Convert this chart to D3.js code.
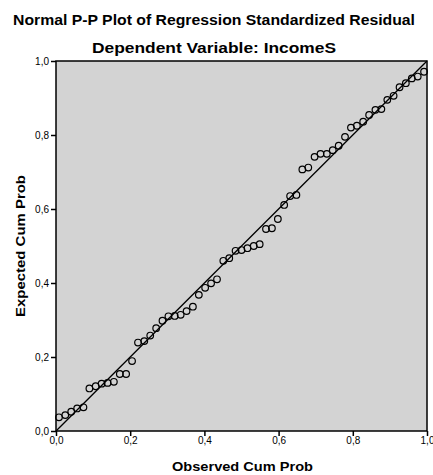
<!DOCTYPE html>
<html>
<head>
<meta charset="utf-8">
<script src="https://cdn.jsdelivr.net/npm/d3@7"></script>
<style>
  html, body { margin: 0; padding: 0; background: #ffffff; }
  svg { display: block; }
</style>
</head>
<body>
<div id="chart"></div>
<script>
// ---- Data ----
const titleText = "Normal P-P Plot of Regression Standardized Residual";
const subtitleText = "Dependent Variable: IncomeS";
const xTitle = "Observed Cum Prob";
const yTitle = "Expected Cum Prob";
const tickValues = [0, 0.2, 0.4, 0.6, 0.8, 1.0];

const observedCumProb = [
  0.008, 0.025, 0.041, 0.057, 0.074, 0.090, 0.107, 0.123, 0.139, 0.156,
  0.172, 0.189, 0.205, 0.221, 0.238, 0.254, 0.270, 0.287, 0.303, 0.320,
  0.336, 0.352, 0.369, 0.385, 0.402, 0.418, 0.434, 0.451, 0.467, 0.484,
  0.500, 0.516, 0.533, 0.549, 0.566, 0.582, 0.598, 0.615, 0.631, 0.648,
  0.664, 0.680, 0.697, 0.713, 0.730, 0.746, 0.762, 0.779, 0.795, 0.811,
  0.828, 0.844, 0.861, 0.877, 0.893, 0.910, 0.926, 0.943, 0.959, 0.975,
  0.992
];
const expectedCumProb = [
  0.037, 0.043, 0.052, 0.061, 0.064, 0.115, 0.121, 0.128, 0.130, 0.133,
  0.154, 0.154, 0.189, 0.239, 0.243, 0.258, 0.278, 0.298, 0.310, 0.311,
  0.314, 0.324, 0.336, 0.368, 0.387, 0.399, 0.410, 0.460, 0.467, 0.487,
  0.489, 0.494, 0.500, 0.505, 0.546, 0.548, 0.573, 0.611, 0.635, 0.638,
  0.707, 0.712, 0.741, 0.749, 0.749, 0.759, 0.771, 0.795, 0.820, 0.825,
  0.836, 0.854, 0.868, 0.870, 0.895, 0.906, 0.929, 0.940, 0.953, 0.958,
  0.971
];
const refLine = [[0, 0], [1, 1]];

// ---- Layout ----
const W = 433, H = 475;
const plot = { left: 56, top: 61, right: 427, bottom: 431 };
const boldFont = "'Liberation Sans', Arial, sans-serif";
const tickFont = "'Liberation Sans', Arial, sans-serif";

const svg = d3.select("#chart").append("svg")
  .attr("width", W).attr("height", H);

const x = d3.scaleLinear().domain([0, 1]).range([plot.left, plot.right]);
const y = d3.scaleLinear().domain([0, 1]).range([plot.bottom, plot.top]);
const fmt = v => d3.format(".1f")(v).replace(".", ",");

function boldText(sel, size, len) {
  return sel.attr("font-family", boldFont).attr("font-size", size)
    .attr("font-weight", "bold").attr("fill", "#000").attr("text-anchor", "middle")
    .attr("textLength", len).attr("lengthAdjust", "spacingAndGlyphs");
}

// Titles
boldText(svg.append("text"), 14, 402).attr("x", 214).attr("y", 24.5).text(titleText);
boldText(svg.append("text"), 14, 244).attr("x", 214).attr("y", 52.5).text(subtitleText);

// Plot background
svg.append("rect")
  .attr("x", plot.left).attr("y", plot.top)
  .attr("width", plot.right - plot.left).attr("height", plot.bottom - plot.top)
  .attr("fill", "#d3d3d3");

// Axes
const xAxis = svg.append("g")
  .attr("transform", `translate(0,${plot.bottom})`)
  .call(d3.axisBottom(x).tickValues(tickValues).tickFormat(fmt).tickSize(5).tickPadding(1));
const yAxis = svg.append("g")
  .attr("transform", `translate(${plot.left},0)`)
  .call(d3.axisLeft(y).tickValues(tickValues).tickFormat(fmt).tickSize(5).tickPadding(2));
[xAxis, yAxis].forEach(g => {
  g.attr("font-family", tickFont).attr("font-size", 10);
  g.select(".domain").remove();
  g.selectAll(".tick line").attr("stroke", "#000").attr("stroke-width", 1.5);
  g.selectAll(".tick text").attr("fill", "#000");
});

// Reference line
const line = d3.line().x(d => x(d[0])).y(d => y(d[1]));
svg.append("path").datum(refLine)
  .attr("d", line).attr("fill", "none").attr("stroke", "#000").attr("stroke-width", 1.3);

// Points
svg.append("g").selectAll("circle")
  .data(observedCumProb.map((v, i) => [v, expectedCumProb[i]]))
  .join("circle")
  .attr("cx", d => x(d[0])).attr("cy", d => y(d[1]))
  .attr("r", 3.3)
  .attr("fill", "none").attr("stroke", "#000").attr("stroke-width", 1.2);

// Frame
svg.append("rect")
  .attr("x", plot.left).attr("y", plot.top)
  .attr("width", plot.right - plot.left).attr("height", plot.bottom - plot.top)
  .attr("fill", "none").attr("stroke", "#000").attr("stroke-width", 1.5);

// Axis titles
boldText(svg.append("text"), 13, 141).attr("x", 242.5).attr("y", 471).text(xTitle);
boldText(svg.append("text"), 13, 142)
  .attr("transform", `translate(25,${(plot.top + plot.bottom) / 2}) rotate(-90)`)
  .text(yTitle);
</script>
</body>
</html>
